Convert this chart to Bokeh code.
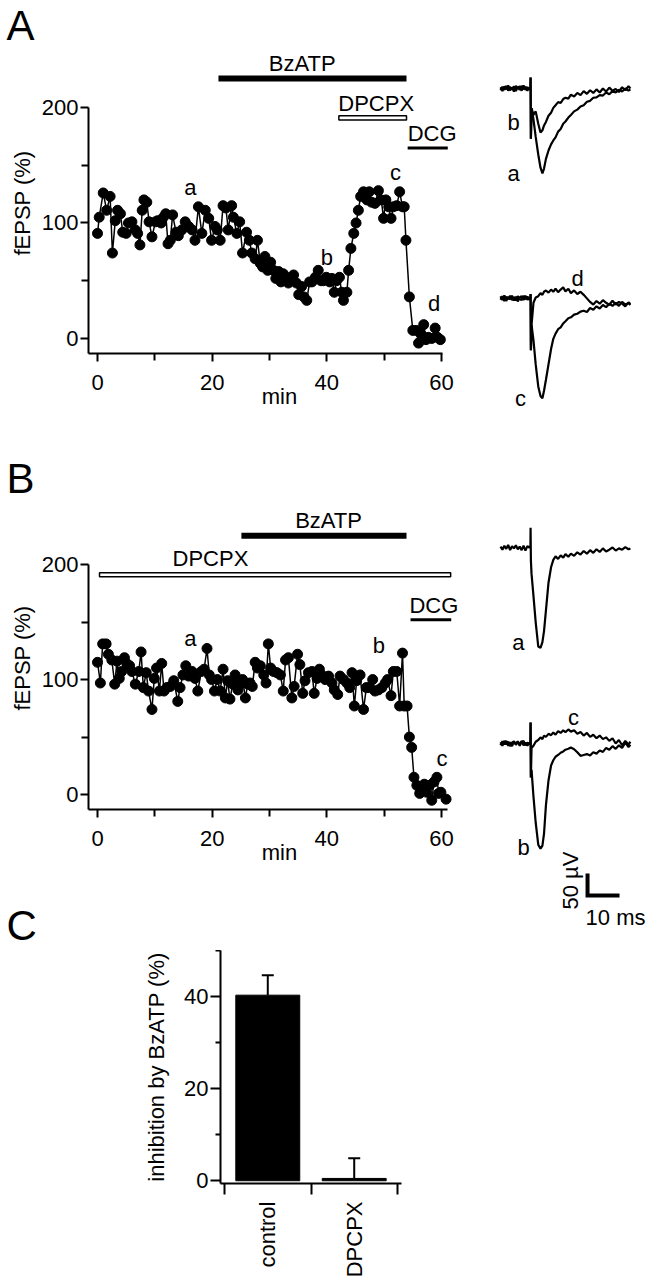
import math
from bokeh.plotting import figure
from bokeh.layouts import row, column
from bokeh.models import (ColumnDataSource, FixedTicker, Range1d,
                          LinearAxis, Whisker, TeeHead)
from bokeh.core.properties import value
from bokeh.embed import file_html
from bokeh.resources import INLINE

FONT = "Liberation Sans"
FS = "22px"

# ---------------- data: panel A time course ----------------
A_MIN = [0.0, 0.3, 1.0, 1.6, 2.2, 2.6, 3.1, 3.5, 4.0, 4.4,
         5.0, 5.4, 6.0, 6.6, 7.0, 7.4, 7.8, 8.1, 8.6, 9.0,
         9.5, 10.1, 10.5, 11.1, 11.5, 11.9, 12.3, 12.7, 13.1, 13.7,
         14.1, 14.7, 15.3, 15.9, 16.5, 17.0, 17.6, 18.2, 18.8, 19.4,
         19.9, 20.5, 20.9, 21.4, 21.9, 22.4, 22.8, 23.4, 23.7, 24.3,
         24.8, 25.3, 26.0, 26.5, 26.9, 27.5, 27.9, 28.4, 28.8, 29.2,
         29.7, 30.2, 30.7, 31.1, 31.6, 32.0, 32.4, 32.8, 33.3, 33.7,
         34.2, 34.7, 35.1, 35.6, 36.0, 36.5, 37.0, 37.4, 38.0, 38.5,
         39.0, 39.4, 39.9, 40.5, 40.9, 41.3, 41.7, 42.2, 42.6, 42.9,
         43.5, 43.8, 44.2, 44.7, 45.1, 45.5, 45.9, 46.4, 47.0, 47.4,
         47.8, 48.4, 49.0, 49.5, 49.9, 50.3, 50.8, 51.2, 51.6, 52.2,
         52.7, 53.2, 53.5, 53.8, 54.4, 55.0, 55.6, 56.0, 56.4, 56.9,
         57.3, 57.7, 58.3, 58.9, 59.3, 59.8]
A_FEPSP = [91, 105, 126, 111, 123, 74, 102, 111, 108, 92,
           91, 100, 101, 94, 91, 81, 111, 120, 118, 101,
           88, 101, 102, 100, 105, 108, 82, 85, 107, 92,
           89, 94, 101, 97, 94, 85, 114, 91, 111, 104,
           85, 97, 94, 85, 115, 113, 94, 115, 105, 91,
           101, 74, 92, 85, 74, 69, 85, 65, 62, 71,
           59, 66, 59, 52, 58, 49, 56, 52, 48, 53,
           55, 48, 38, 45, 36, 33, 49, 49, 53, 59,
           50, 50, 53, 49, 52, 40, 50, 53, 40, 33,
           40, 59, 78, 91, 100, 111, 123, 127, 120, 127,
           118, 117, 128, 120, 104, 120, 114, 104, 114, 115,
           127, 114, 114, 85, 36, 7, 7, -4, 4, 12,
           -1, 1, 0, 9, 1, -1]

# ---------------- data: panel B time course ----------------
B_MIN = [0.0, 0.5, 0.9, 1.5, 1.9, 2.5, 3.0, 3.4, 3.8, 4.2,
         4.7, 5.1, 5.6, 6.0, 6.6, 7.2, 7.6, 8.0, 8.5, 8.9,
         9.5, 9.9, 10.3, 10.8, 11.2, 11.6, 12.1, 12.7, 13.3, 14.0,
         14.4, 14.9, 15.4, 15.9, 16.5, 17.0, 17.5, 18.1, 18.6, 19.1,
         19.5, 19.9, 20.4, 20.9, 21.4, 21.9, 22.3, 22.7, 23.1, 23.6,
         24.0, 24.5, 24.9, 25.3, 25.8, 26.2, 26.6, 27.0, 27.5, 27.9,
         28.4, 29.0, 29.4, 29.8, 30.2, 30.7, 31.3, 31.9, 32.4, 32.8,
         33.3, 33.9, 34.3, 34.9, 35.3, 35.8, 36.2, 36.8, 37.4, 37.8,
         38.3, 38.7, 39.1, 39.7, 40.3, 40.9, 41.3, 41.9, 42.3, 42.9,
         43.5, 44.0, 44.4, 44.8, 45.2, 45.8, 46.4, 46.9, 47.4, 48.0,
         48.4, 49.0, 49.6, 50.2, 50.6, 51.2, 51.6, 52.2, 52.7, 53.2,
         53.5, 54.0, 54.4, 54.8, 55.2, 55.7, 56.2, 56.6, 57.0, 57.4,
         57.9, 58.3, 58.7, 59.2, 59.5, 59.9, 60.8]
B_FEPSP = [115, 97, 131, 131, 122, 117, 96, 116, 101, 107,
           119, 114, 112, 107, 96, 107, 124, 93, 106, 90,
           74, 101, 110, 90, 114, 90, 93, 94, 99, 81,
           93, 104, 112, 103, 107, 101, 90, 107, 109, 127,
           104, 100, 90, 100, 90, 109, 84, 99, 83, 96,
           104, 91, 96, 100, 84, 96, 97, 94, 115, 110,
           112, 104, 97, 131, 110, 107, 106, 104, 90, 117,
           119, 84, 94, 122, 113, 88, 99, 106, 107, 88,
           101, 109, 104, 100, 103, 97, 91, 87, 103, 100,
           97, 93, 106, 77, 99, 104, 74, 93, 93, 100,
           90, 91, 93, 97, 100, 86, 107, 107, 77, 123,
           77, 77, 50, 41, 15, 8, 1, 5, 9, 2,
           8, -5, 11, 15, 1, 2, -4]

# ---------------- data: example traces (ms, µV) ----------------
T_MS = [0.0, 0.6, 1.2, 1.8, 2.4, 3.0, 3.6, 4.2, 4.8, 5.4, 6.0, 6.6, 7.2, 7.8, 8.4, 9.0,
        9.35, 9.4, 9.5, 9.7,
        10.3, 11.0, 11.8, 12.5, 13.1, 13.6, 14.2, 15.0, 15.8, 16.5,
        17.2, 18.0, 18.8, 19.6, 20.3, 21.2, 22.0, 23.0, 24.0, 25.0,
        26.0, 27.0, 28.0, 29.0, 30.0, 31.0, 32.0, 33.0, 34.0, 35.0,
        36.0, 37.0, 38.0, 39.0, 40.0, 40.6]
TR_A_a = [3, -6, 5, -2, 7, -4, 2, -7, 6, 0, 5, -5, 7, -3, 3, -2,
          0, 25, -114, -45,
          -70, -110, -150, -180, -193, -182, -160, -141, -127, -118,
          -111, -98, -92, -80, -75, -66, -60, -52, -48, -41,
          -38, -30, -28, -21, -20, -15, -16, -9, -13, -6,
          -9, -3, -7, 0, -5, -2]
TR_A_b = [-4, 4, -3, 6, -5, 3, -1, 5, -6, 4, -3, 6, -2, 4, -5, 1,
          0, 25, -114, -45,
          -60, -52, -80, -100, -95, -84, -76, -62, -55, -44,
          -38, -31, -33, -24, -21, -23, -14, -18, -10, -15,
          -6, -12, -4, -10, -2, -9, 0, -7, 2, -5,
          -1, -8, 3, -4, 5, 0]
TR_A_c = [5, -4, 7, -6, 3, -2, 6, -5, 4, -7, 2, 5, -4, 6, -3, 2,
          0, 10, -118, -60,
          -95, -150, -200, -222, -227, -210, -185, -150, -115, -92,
          -80, -70, -66, -57, -52, -45, -43, -37, -35, -30,
          -28, -31, -22, -26, -18, -23, -15, -20, -12, -17,
          -10, -17, -8, -14, -11, -15]
TR_A_d = [-3, 5, -6, 4, -2, 6, -4, 3, -5, 5, -1, -4, 6, -2, 4, -3,
          0, 10, -118, -60,
          -10, 2, 5, 12, 8, 15, 18, 13, 20, 15,
          22, 14, 20, 25, 16, 22, 12, 18, 10, 15,
          8, 0, -8, -14, -6, -12, -4, -10, -15, -5,
          -14, -8, -12, -18, -9, -13]
TR_B_a = [2, -5, 4, -3, 6, -6, 3, -2, 5, -4, 2, -6, 4, -7, 3, 0,
          0, 45, -30, -60,
          -110, -170, -225, -228, -215, -190, -143, -80, -45, -28,
          -20, -26, -18, -23, -15, -21, -14, -19, -11, -16,
          -8, -14, -6, -12, -4, -10, -2, -9, -5, 0,
          -7, -2, -5, 1, -4, -2]
TR_B_b = [-4, 5, -2, 6, -5, 3, -6, 4, -1, 5, -3, 6, -4, 2, -5, 1,
          0, 48, -77, -60,
          -120, -180, -230, -239, -232, -205, -140, -84, -50, -38,
          -30, -26, -21, -18, -14, -12, -9, -13, -20, -28,
          -26, -24, -27, -20, -23, -16, -19, -10, -14, -6,
          -12, -4, -10, 2, -8, -3]
TR_B_c = [3, -5, 6, -2, 4, -6, 2, 5, -3, 4, -5, 3, 6, -4, 2, -1,
          0, 48, -77, -10,
          -5, 4, 8, 14, 10, 18, 15, 22, 19, 25,
          20, 28, 24, 30, 26, 32, 27, 30, 22, 26,
          18, 24, 15, 20, 12, 18, 10, 14, 6, 12,
          0, 8, -4, 6, -2, 4]

# ---------------- data: panel C ----------------
CATS = ["control", "DPCPX"]
INHIB = [40.3, 0.5]
INHIB_SEM = [4.3, 4.4]

# ---------------- layout constants ----------------
LEFT_W = 470
BORDER_L = 88
PX_PER_MIN = 5.733
X0 = -1.57
Y0 = -13


def bare(width, height, xr, yr):
    p = figure(width=width, height=height, output_backend="svg", toolbar_location=None,
               x_range=xr, y_range=yr, x_axis_location=None, y_axis_location=None,
               min_border_left=0, min_border_right=0, min_border_top=0, min_border_bottom=0,
               frame_align=False)
    p.grid.visible = False
    p.outline_line_color = None
    return p


def style_axes(p):
    for ax in p.axis:
        ax.axis_line_width = 2
        ax.axis_line_color = "black"
        ax.major_tick_line_width = 2
        ax.minor_tick_line_width = 2
        ax.major_tick_line_color = "black"
        ax.minor_tick_line_color = "black"
        ax.major_tick_in = 0
        ax.minor_tick_in = 0
        ax.major_tick_out = 8
        ax.minor_tick_out = 7
        ax.major_label_text_font = FONT
        ax.major_label_text_font_size = FS
        ax.major_label_text_color = "black"
        ax.axis_label_text_font = FONT
        ax.axis_label_text_font_size = FS
        ax.axis_label_text_font_style = "normal"
        ax.axis_label_text_color = "black"


def txt(p, x, y, s, align="center", baseline="middle", size=FS, angle=0):
    p.text(x=x, y=y, text=s, text_font=value(FONT), text_font_size=size,
           text_align=align, text_baseline=baseline, text_color="black", angle=angle)


def letter_fig(height, center_from_top, letter):
    p = bare(LEFT_W, height, Range1d(0, LEFT_W), Range1d(0, height))
    txt(p, [6], [height - center_from_top], [letter], align="left", size="42px")
    return p


def course_panel(t, v, height, bottom_border, px_per_unit, x_axis_end):
    frame_h = height - bottom_border
    x_end = X0 + (LEFT_W - BORDER_L) / PX_PER_MIN
    p = figure(width=LEFT_W, height=height, output_backend="svg", toolbar_location=None,
               x_range=Range1d(X0, x_end), y_range=Range1d(Y0, Y0 + frame_h / px_per_unit),
               min_border_left=BORDER_L, min_border_right=0, min_border_top=0,
               min_border_bottom=bottom_border, frame_align=False)
    p.grid.visible = False
    p.outline_line_color = None
    p.xaxis.ticker = FixedTicker(ticks=[0, 20, 40, 60], minor_ticks=[10, 30, 50])
    p.yaxis.ticker = FixedTicker(ticks=[0, 100, 200], minor_ticks=[50, 150])
    p.xaxis.bounds = (X0, x_axis_end)
    p.yaxis.bounds = (Y0, 200)
    p.xaxis.axis_label = "min"
    p.yaxis.axis_label = "fEPSP (%)"
    style_axes(p)
    p.xaxis.major_label_standoff = 13
    p.xaxis.axis_label_standoff = -9
    p.yaxis.major_label_standoff = 2
    p.yaxis.axis_label_standoff = 4
    p.line(t, v, line_width=1.5, color="black")
    p.scatter(t, v, size=10, marker="circle", color="black")
    return p


# ---------------- panel A ----------------
lA = letter_fig(52, 25, "A")
pA = course_panel(A_MIN, A_FEPSP, 388, 87, 1.155, 60.17)
pA.segment(x0=[21.1], y0=[225], x1=[53.9], y1=[225], line_width=6, color="black")
txt(pA, [35.7], [238], ["BzATP"])
pA.quad(left=[42.1], right=[53.9], bottom=[189.2], top=[192.8],
        fill_color="white", line_color="black", line_width=1.5)
txt(pA, [42.0], [203.5], ["DPCPX"], align="left")
pA.segment(x0=[54.1], y0=[165], x1=[61.1], y1=[165], line_width=3, color="black")
txt(pA, [54.1], [177.5], ["DCG"], align="left")
txt(pA, [16.2, 40.0, 52.0, 58.7], [131, 70, 144, 30], ["a", "b", "c", "d"])

# ---------------- panel B ----------------
lB = letter_fig(66, 38, "B")
pB = course_panel(B_MIN, B_FEPSP, 384, 81, 1.15, 61.0)
pB.segment(x0=[25.1], y0=[225], x1=[53.9], y1=[225], line_width=6, color="black")
txt(pB, [40.3], [238], ["BzATP"])
pB.quad(left=[0.35], right=[61.6], bottom=[189.3], top=[192.9],
        fill_color="white", line_color="black", line_width=1.5)
txt(pB, [19.7], [205], ["DPCPX"])
pB.segment(x0=[54.6], y0=[152], x1=[61.7], y1=[152], line_width=3, color="black")
txt(pB, [54.4], [164], ["DCG"], align="left")
txt(pB, [16.2, 49.1, 60.1], [136, 130, 31], ["a", "b", "c"])

# ---------------- panel C ----------------
lC = letter_fig(60, 35, "C")
C_PAD = 0.047
cat_pos = [i + 0.5 for i in range(len(CATS))]
cat_edges = [float(i) for i in range(len(CATS) + 1)]
pC = figure(width=LEFT_W, height=330, output_backend="svg", toolbar_location=None,
            x_range=Range1d(-C_PAD, len(CATS) + C_PAD),
            y_range=Range1d(-0.6, 50), x_axis_location=None,
            min_border_left=220, min_border_right=69, min_border_top=0, min_border_bottom=84,
            frame_align=False)
pC.grid.visible = False
pC.outline_line_color = None
cat_ax = LinearAxis(ticker=FixedTicker(ticks=cat_pos, minor_ticks=cat_edges),
                    major_label_overrides={pos: c for pos, c in zip(cat_pos, CATS)})
pC.add_layout(cat_ax, "below")
pC.yaxis.ticker = FixedTicker(ticks=[0, 20, 40], minor_ticks=[10, 30, 50])
pC.yaxis.axis_label = "inhibition by BzATP (%)"
style_axes(pC)
pC.yaxis.major_tick_out = 10
pC.yaxis.minor_tick_out = 5
pC.yaxis.major_label_standoff = 2
pC.yaxis.axis_label_standoff = 12
cat_ax.major_tick_line_color = None
cat_ax.major_tick_out = 0
cat_ax.minor_tick_out = 11
cat_ax.major_label_orientation = math.pi / 2
cat_ax.major_label_standoff = 7

src = ColumnDataSource(dict(x=cat_pos, top=INHIB,
                            upper=[m + s for m, s in zip(INHIB, INHIB_SEM)]))
pC.vbar(x="x", top="top", width=0.74, source=src, fill_color="black", line_color="black")
pC.add_layout(Whisker(base="x", lower="top", upper="upper", source=src, dimension="height",
                      line_width=2, line_color="black",
                      upper_head=TeeHead(size=12, line_width=2, line_color="black"),
                      lower_head=None))

# ---------------- example traces ----------------
TR_W = 180
PX_PER_MS = 3.2
PX_PER_UV = 0.44
TR_X0 = -30 / PX_PER_MS


def trace_fig(height, top_uv):
    return bare(TR_W, height, Range1d(TR_X0, TR_X0 + TR_W / PX_PER_MS),
                Range1d(top_uv - height / PX_PER_UV, top_uv))


tA = trace_fig(440, 88 / PX_PER_UV)
OFF_A2 = -477
for tr, off in [(TR_A_a, 0), (TR_A_b, 0), (TR_A_c, OFF_A2), (TR_A_d, OFF_A2)]:
    tA.line(T_MS, [u + off for u in tr], line_width=2.2, color="black")
txt(tA, [4.1, 4.1, 24.1, 6.25], [-77, -193, 45 + OFF_A2, -227 + OFF_A2], ["b", "a", "d", "c"])

tB = trace_fig(510, 107 / PX_PER_UV)
OFF_B2 = -445.5
for tr, off in [(TR_B_a, 0), (TR_B_b, OFF_B2), (TR_B_c, OFF_B2)]:
    tB.line(T_MS, [u + off for u in tr], line_width=2.2, color="black")
txt(tB, [5.6, 22.8, 7.2], [-216, 59 + OFF_B2, -236 + OFF_B2], ["a", "c", "b"])

SCALE_MS = 10
SCALE_UV = 50
SB_X, SB_Y = 27.2, -791
tB.line([SB_X, SB_X, SB_X + SCALE_MS], [SB_Y + SCALE_UV, SB_Y, SB_Y],
        line_width=4, color="black", line_join="miter")
txt(tB, [21.9], [-757], ["50 µV"], angle=math.pi / 2)
txt(tB, [26.6], [-841], ["10 ms"], align="left")

layout = row(column(lA, pA, lB, pB, lC, pC), column(tA, tB))
open("out.html", "w").write(file_html(layout, INLINE))
